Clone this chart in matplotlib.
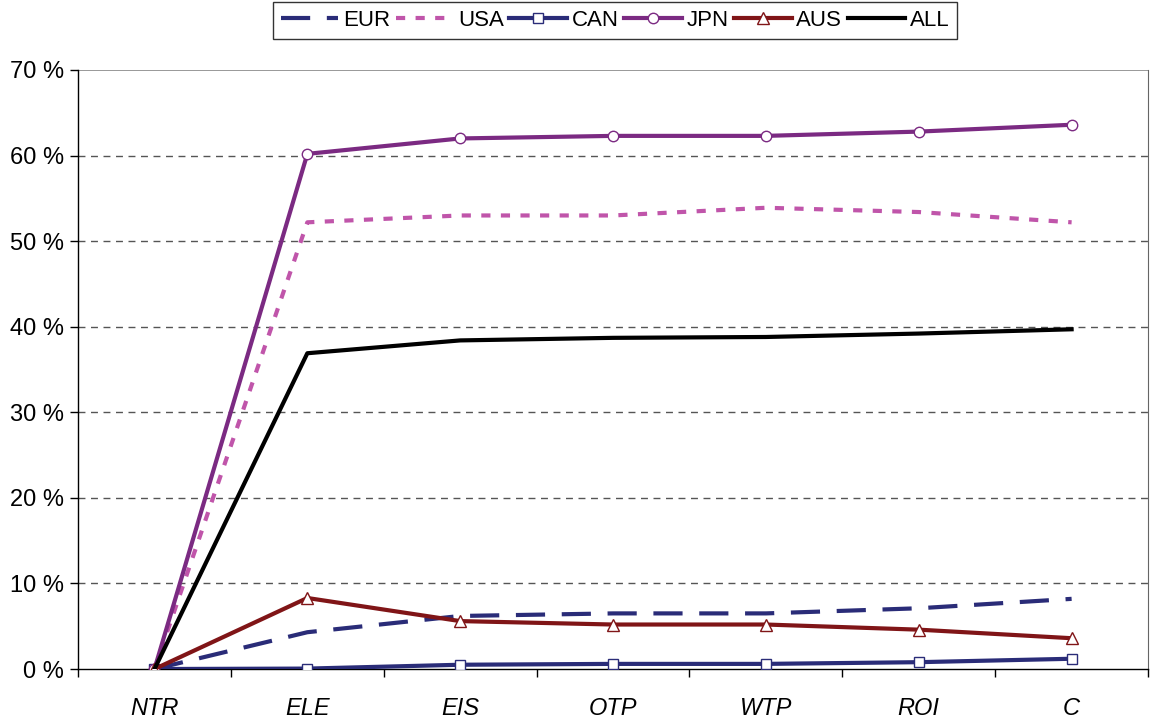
import matplotlib
matplotlib.use("Agg")
import matplotlib.pyplot as plt
from matplotlib.ticker import FixedLocator, NullFormatter, FixedFormatter

categories = ["NTR", "ELE", "EIS", "OTP", "WTP", "ROI", "C"]
eur = [0.0, 4.3, 6.2, 6.5, 6.5, 7.1, 8.2]
usa = [0.0, 52.2, 53.0, 53.0, 53.9, 53.4, 52.2]
can = [0.0, 0.05, 0.5, 0.6, 0.6, 0.8, 1.2]
jpn = [0.0, 60.2, 62.0, 62.3, 62.3, 62.8, 63.6]
aus = [0.0, 8.3, 5.6, 5.2, 5.2, 4.6, 3.6]
all_ = [0.0, 36.9, 38.4, 38.7, 38.8, 39.2, 39.7]
yticks = [0, 10, 20, 30, 40, 50, 60, 70]
ytick_labels = ["0 %", "10 %", "20 %", "30 %", "40 %", "50 %", "60 %", "70 %"]

plt.rcParams['font.family'] = ['Liberation Sans', 'DejaVu Sans']

fig = plt.figure(figsize=(11.53, 7.2), dpi=100)
ax = fig.add_axes([0.0677, 0.0708, 0.9280, 0.8320])

x = list(range(len(categories)))
lw = 3.0
ms = 7.5
ax.plot(x, eur, color="#2a2c78", lw=lw, dashes=(7, 4), label="EUR", zorder=3)
ax.plot(x, usa, color="#c055aa", lw=lw, dashes=(2.2, 2.5), label="USA", zorder=3)
ax.plot(x, can, color="#2a2c78", lw=lw, marker="s", markersize=ms, markerfacecolor="white",
        markeredgecolor="#2a2c78", markeredgewidth=1.0, label="CAN", zorder=4)
ax.plot(x, jpn, color="#7b2a82", lw=lw, marker="o", markersize=ms, markerfacecolor="white",
        markeredgecolor="#7b2a82", markeredgewidth=1.0, label="JPN", zorder=4)
ax.plot(x, aus, color="#801517", lw=lw, marker="^", markersize=ms + 1, markerfacecolor="white",
        markeredgecolor="#801517", markeredgewidth=1.0, label="AUS", zorder=4)
ax.plot(x, all_, color="black", lw=lw, label="ALL", zorder=4)

ax.set_xlim(-0.5, len(categories) - 0.5)
ax.set_ylim(0, 70)
ax.set_yticks(yticks)
ax.set_yticklabels(ytick_labels, fontsize=17)
ax.xaxis.set_major_locator(FixedLocator([i - 0.5 for i in range(len(categories) + 1)]))
ax.xaxis.set_major_formatter(NullFormatter())
ax.xaxis.set_minor_locator(FixedLocator(x))
ax.xaxis.set_minor_formatter(FixedFormatter(categories))
ax.tick_params(axis="x", which="minor", length=0, pad=20, labelsize=17)
for lab in ax.get_xticklabels(minor=True):
    lab.set_fontstyle("italic")
ax.tick_params(axis="x", which="major", length=6, direction="out", width=1)
ax.tick_params(axis="y", length=6, direction="out", width=1, pad=4)

for v in yticks[1:-1]:
    ax.axhline(v, color="#555555", lw=1, ls=(0, (5, 4)), zorder=1)
ax.axhline(70, color="#888888", lw=1.2, zorder=1)

for s in ["left", "bottom"]:
    ax.spines[s].set_color("black")
    ax.spines[s].set_linewidth(1)
ax.spines["top"].set_visible(False)
ax.spines["right"].set_color("#666666")

leg = fig.legend(loc="upper center", bbox_to_anchor=(0.5334, 0.997), ncol=6, frameon=True,
                 fancybox=False, edgecolor="black", fontsize=16, handlelength=2.6,
                 handletextpad=0.2, columnspacing=0.25, borderpad=0.35, borderaxespad=0)
leg.get_frame().set_linewidth(1)

fig.savefig("out.png", dpi=100)
